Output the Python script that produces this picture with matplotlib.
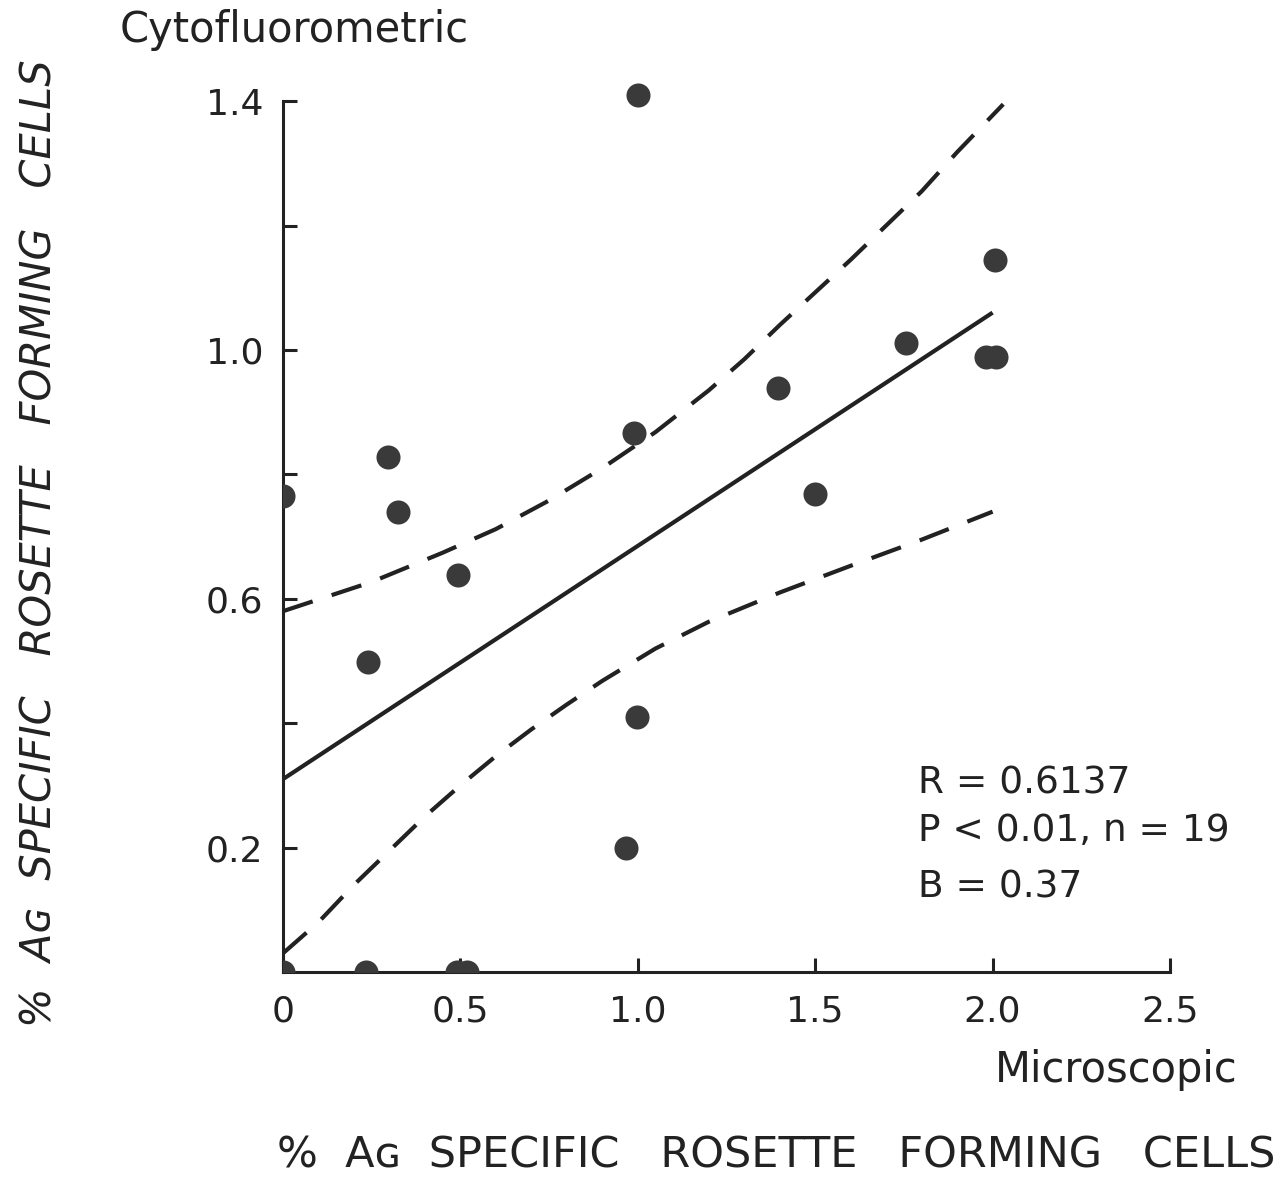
import matplotlib
matplotlib.use("Agg")
import matplotlib.pyplot as plt

# scatter points (% rosette forming cells)
microscopic = [0.0, 0.0, 0.24, 0.235, 0.296, 0.324, 0.493, 0.49, 0.52, 1.0,
               0.99, 0.997, 0.966, 1.394, 1.50, 1.755, 2.006, 1.98, 2.01]
cytofluorometric = [0.765, 0.0, 0.498, 0.0, 0.828, 0.74, 0.638, 0.0, 0.0, 1.41,
                    0.866, 0.41, 0.20, 0.939, 0.768, 1.011, 1.145, 0.989, 0.989]

# regression line end points
fit_x = [0.0, 2.0]
fit_y = [0.31, 1.06]

# confidence bands
upper_x = [0.0, 0.25, 0.45, 0.6, 0.75, 0.9, 1.05, 1.2, 1.3, 1.4, 1.6, 1.8, 1.9, 2.03]
upper_y = [0.58, 0.627, 0.674, 0.712, 0.758, 0.81, 0.868, 0.935, 0.985, 1.04,
           1.145, 1.255, 1.318, 1.395]
lower_x = [0.0, 0.1, 0.2, 0.3, 0.4, 0.5, 0.6, 0.7, 0.8, 0.9, 1.05, 1.2, 1.4,
           1.6, 1.8, 2.0]
lower_y = [0.03, 0.08, 0.14, 0.195, 0.25, 0.30, 0.347, 0.39, 0.43, 0.468, 0.52,
           0.563, 0.61, 0.653, 0.695, 0.74]

x_ticks = [0, 0.5, 1.0, 1.5, 2.0, 2.5]
x_labels = ["0", "0.5", "1.0", "1.5", "2.0", "2.5"]
y_ticks = [0.2, 0.4, 0.6, 0.8, 1.0, 1.2, 1.4]
y_labels = ["0.2", "", "0.6", "", "1.0", "", "1.4"]

stats = ["R = 0.6137", "P < 0.01, n = 19", "B = 0.37"]
axis_title = "%  A\u0262  SPECIFIC   ROSETTE   FORMING   CELLS"

INK = "#222222"
DOT = "#3a3a3a"

plt.rcParams["font.family"] = ["DejaVu Sans"]

fig = plt.figure(figsize=(12.88, 11.81), dpi=100)
ax = fig.add_axes([0.2197, 0.177, 0.6887, 0.7637])

ax.plot(fit_x, fit_y, color=INK, lw=3.0, solid_capstyle="butt")
ax.plot(upper_x, upper_y, color=INK, lw=3.0, dashes=(7.5, 4.8))
ax.plot(lower_x, lower_y, color=INK, lw=3.0, dashes=(7.5, 4.8))
ax.scatter(microscopic, cytofluorometric, s=300, color=DOT, zorder=3, linewidths=0)

ax.set_xlim(0, 2.5)
ax.set_ylim(0, 1.45)
ax.spines["top"].set_visible(False)
ax.spines["right"].set_visible(False)
ax.spines["left"].set_bounds(0, 1.4)
for side in ("left", "bottom"):
    ax.spines[side].set_linewidth(2.2)
    ax.spines[side].set_color(INK)

ax.set_xticks(x_ticks)
ax.set_xticklabels(x_labels)
ax.set_yticks(y_ticks)
ax.set_yticklabels(y_labels)
ax.tick_params(axis="both", direction="in", length=10, width=2.2, color=INK,
               labelsize=26, labelcolor=INK)
ax.tick_params(axis="y", pad=14)
ax.tick_params(axis="x", pad=16)

fig.text(918 / 1288, 1 - 783 / 1181, stats[0], fontsize=27, color=INK, va="center")
fig.text(918 / 1288, 1 - 831 / 1181, stats[1], fontsize=27, color=INK, va="center")
fig.text(918 / 1288, 1 - 887 / 1181, stats[2], fontsize=27, color=INK, va="center")

fig.text(120 / 1288, 1 - 30 / 1181, "Cytofluorometric", fontsize=30, color=INK,
         va="center", ha="left")
fig.text(1238 / 1288, 1 - 1070 / 1181, "Microscopic", fontsize=30, color=INK,
         va="center", ha="right")
fig.text(1275 / 1288, 1 - 1155 / 1181, axis_title,
         fontsize=31, color=INK, va="center", ha="right")
fig.text(40 / 1288, 1 - 543 / 1181, axis_title,
         fontsize=30, color=INK, va="center", ha="center", rotation=90, style="italic")

fig.savefig("out.png", dpi=100, facecolor="white")
